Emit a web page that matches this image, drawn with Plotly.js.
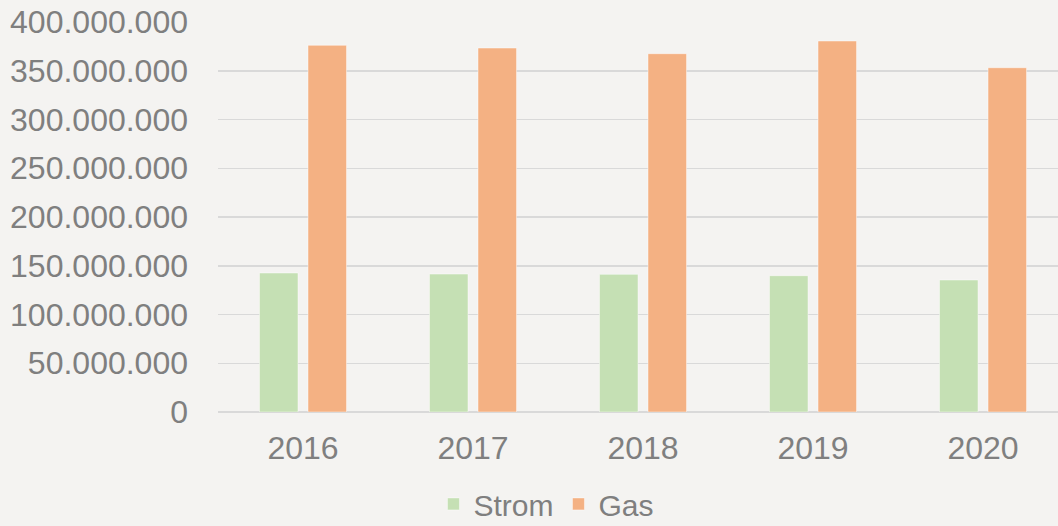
<!DOCTYPE html>
<html>
<head>
<meta charset="utf-8">
<script src="https://cdn.plot.ly/plotly-3.0.1.min.js"></script>
<style>html,body{margin:0;padding:0;background:#F4F3F1;}#chart{width:1058px;height:526px;}</style>
</head>
<body>
<div id="chart"></div>
<script>
var years = ['2016', '2017', '2018', '2019', '2020'];
var strom = [142600000, 141500000, 141200000, 139800000, 135400000];
var gas = [376100000, 373300000, 367500000, 380500000, 353100000];

var textColor = '#7F7F7F';
var traces = [
  {type: 'bar', name: 'Strom', x: years, y: strom,
   marker: {color: '#C5E0B4', line: {color: 'rgba(255,255,255,0.45)', width: 1}}},
  {type: 'bar', name: 'Gas', x: years, y: gas,
   marker: {color: '#F4B183', line: {color: 'rgba(255,255,255,0.45)', width: 1}}}
];
var layout = {
  width: 1058, height: 526,
  paper_bgcolor: '#F4F3F1', plot_bgcolor: '#F4F3F1',
  margin: {l: 218, r: 0, t: 22, b: 114, pad: 0, autoexpand: false},
  separators: ',.',
  font: {family: 'Liberation Sans, Arial, sans-serif', size: 32, color: textColor},
  barmode: 'group', bargap: 0.429, bargroupgap: 0.206,
  xaxis: {type: 'category', range: [-0.5, 4.441], showgrid: false, showline: false, automargin: false,
          ticks: '', ticklabelstandoff: 14, tickfont: {size: 32, color: textColor}},
  yaxis: {range: [0, 400000000], dtick: 50000000, tickformat: ',d', automargin: false,
          gridcolor: '#D9D9D9', gridwidth: 1.5, zeroline: true, zerolinecolor: '#D9D9D9', zerolinewidth: 1.5,
          showline: false, ticks: '', ticklabelstandoff: 29, tickfont: {size: 32, color: textColor}},
  showlegend: true,
  legend: {orientation: 'h', x: 0.391, xanchor: 'center', yref: 'container', y: 0.042, yanchor: 'middle',
           font: {size: 30, color: textColor}, bgcolor: 'rgba(0,0,0,0)', itemwidth: 30, tracegroupgap: 0}
};
Plotly.newPlot('chart', traces, layout, {staticPlot: true, displayModeBar: false});
</script>
</body>
</html>
